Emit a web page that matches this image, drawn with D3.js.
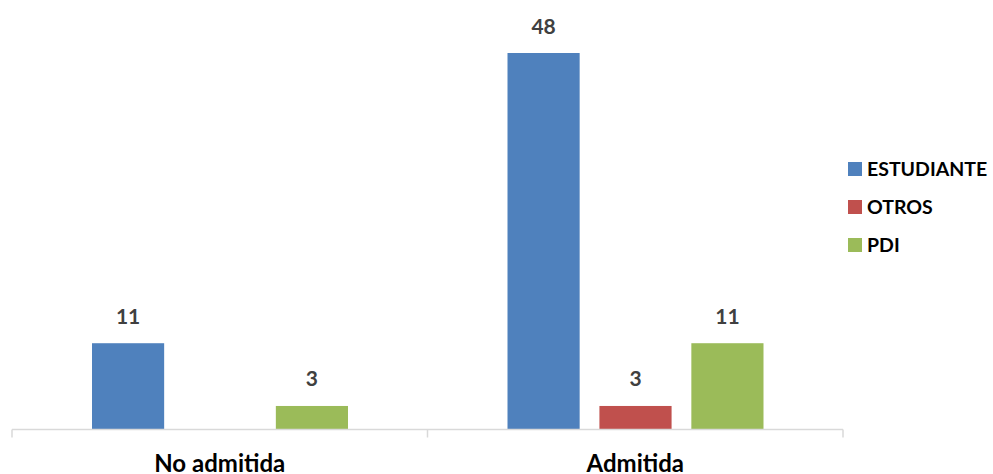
<!DOCTYPE html>
<html lang="es">
<head>
    <meta charset="utf-8">
    <title>Admitida / No admitida</title>
    <script src="https://cdn.jsdelivr.net/npm/d3@7/dist/d3.min.js"></script>
    <style>
        body { margin: 0; background: #fff; }
        text { font-family: Lato, "Open Sans", sans-serif; font-weight: bold; }
    </style>
</head>
<body>
    <svg width="993" height="474"></svg>
    <script>
        // datos
        var categorias = ["No admitida", "Admitida"];
        var series = ["ESTUDIANTE", "OTROS", "PDI"];
        var colores = ["#4F81BD", "#C0504D", "#9BBB59"];
        var estudiante = [11, 48];
        var otros = [null, 3];
        var pdi = [3, 11];
        var valores = [estudiante, otros, pdi];

        var svg = d3.select("svg");
        var base = 429.5;

        var x0 = d3.scaleBand().domain(categorias).range([12, 843]);
        var x1 = d3.scaleBand().domain(series).range([80, 336]).paddingInner(0.215);
        var y = d3.scaleLinear().domain([0, 48]).range([base, 53]);

        // barras
        categorias.forEach(function (c, i) {
            var g = svg.append("g").attr("transform", "translate(" + x0(c) + ",0)");
            series.forEach(function (s, j) {
                var v = valores[j][i];
                if (v == null) return;
                g.append("rect")
                    .attr("x", x1(s))
                    .attr("y", y(v))
                    .attr("width", x1.bandwidth())
                    .attr("height", base - y(v))
                    .attr("fill", colores[j]);
                g.append("text")
                    .attr("x", x1(s) + x1.bandwidth() / 2)
                    .attr("y", y(v) - 19.5)
                    .attr("text-anchor", "middle")
                    .attr("font-size", 21)
                    .attr("fill", "#404040")
                    .text(v);
            });
        });

        // eje
        var eje = svg.append("g").attr("transform", "translate(0," + base + ")");
        eje.append("line").attr("x1", 12).attr("x2", 843).attr("y1", 0).attr("y2", 0)
            .attr("stroke", "#D9D9D9").attr("stroke-width", 1.5);
        var bordes = [12].concat(categorias.map(function (c) { return x0(c) + x0.bandwidth(); }));
        eje.selectAll(".tick").data(bordes).enter().append("line")
            .attr("x1", function (d) { return d; })
            .attr("x2", function (d) { return d; })
            .attr("y1", 0).attr("y2", 8)
            .attr("stroke", "#D9D9D9").attr("stroke-width", 1.5);
        eje.selectAll(".cat").data(categorias).enter().append("text")
            .attr("x", function (d) { return x0(d) + x0.bandwidth() / 2; })
            .attr("y", 42.5)
            .attr("text-anchor", "middle")
            .attr("font-size", 24)
            .attr("fill", "#000")
            .text(function (d) { return d; });

        // leyenda
        var ley = svg.append("g").attr("transform", "translate(848,162)");
        series.forEach(function (s, j) {
            var fila = ley.append("g").attr("transform", "translate(0," + j * 38 + ")");
            fila.append("rect").attr("width", 14).attr("height", 14).attr("fill", colores[j]);
            fila.append("text").attr("x", 19).attr("y", 14)
                .attr("font-size", 19.5).attr("fill", "#000").text(s);
        });
    </script>
</body>
</html>
